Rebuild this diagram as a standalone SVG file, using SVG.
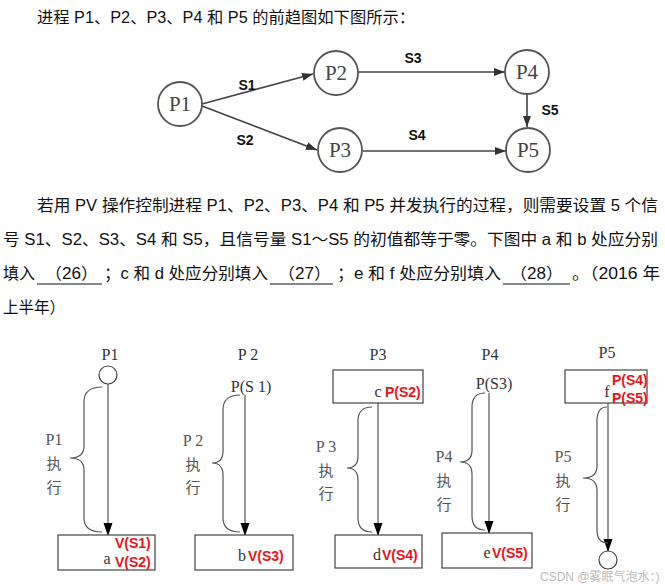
<svg xmlns="http://www.w3.org/2000/svg" width="665" height="588" viewBox="0 0 665 588">
<style>
.para{font-family:"Liberation Sans","Noto Sans CJK SC",sans-serif;font-size:16px;fill:#111}
.node circle{fill:#fff;stroke:#555;stroke-width:1.8}
.nlab{font-family:"Liberation Serif","Noto Sans CJK SC",serif;font-size:21px;fill:#444;text-anchor:middle}
.slab{font-family:"Liberation Sans",sans-serif;font-size:14px;font-weight:bold;fill:#111;text-anchor:middle}
.edge{stroke:#444;stroke-width:1.6;fill:none}
.ul{stroke:#111;stroke-width:1}
.ser{font-family:"Liberation Serif","Noto Sans CJK SC",serif;font-size:16px;fill:#333}
.mid{text-anchor:middle}
.lab{font-family:"Liberation Serif",serif;font-size:16px;fill:#555;text-anchor:middle}
.cjk{font-family:"Noto Sans CJK SC",sans-serif;font-size:15px;fill:#555;text-anchor:middle}
.red{font-family:"Liberation Sans",sans-serif;font-size:14px;font-weight:bold;fill:#e8141b}
.box{fill:#fff;stroke:#444;stroke-width:1.2}
.vl{stroke:#333;stroke-width:1;fill:none}
.brace{stroke:#555;stroke-width:1.2;fill:none}
.wm{font-family:"Liberation Sans","Noto Sans CJK SC",sans-serif;font-size:12px;fill:#bbb}
</style>
<defs>
<marker id="ah" markerUnits="userSpaceOnUse" markerWidth="12" markerHeight="10" refX="11" refY="4" orient="auto">
<path d="M0,0 L11,4 L0,8 Z" fill="#333"/>
</marker>
<marker id="ab" markerUnits="userSpaceOnUse" markerWidth="14" markerHeight="10" refX="12" refY="4.5" orient="auto">
<path d="M0,0 L13,4.5 L0,9 Z" fill="#000"/>
</marker>
</defs>

<text class="para" x="37" y="23" textLength="378" lengthAdjust="spacingAndGlyphs">进程 P1、P2、P3、P4 和 P5 的前趋图如下图所示：</text>

<g id="edges">
<line class="edge" x1="202" y1="104" x2="313" y2="74" marker-end="url(#ah)"/>
<line class="edge" x1="202" y1="106" x2="317" y2="150" marker-end="url(#ah)"/>
<line class="edge" x1="358" y1="72" x2="505" y2="72" marker-end="url(#ah)"/>
<line class="edge" x1="363" y1="151" x2="506" y2="151" marker-end="url(#ah)"/>
<line class="edge" x1="527" y1="94" x2="527" y2="127" marker-end="url(#ah)"/>
<text class="slab" x="247" y="90">S1</text>
<text class="slab" x="245" y="145">S2</text>
<text class="slab" x="413" y="63">S3</text>
<text class="slab" x="417" y="140">S4</text>
<text class="slab" x="550" y="115">S5</text>
</g>
<g id="P1" class="node"><circle cx="180" cy="104" r="22"/><text class="nlab" x="180" y="111">P1</text></g>
<g id="P2" class="node"><circle cx="336" cy="73" r="22"/><text class="nlab" x="336" y="80">P2</text></g>
<g id="P3" class="node"><circle cx="340" cy="150" r="22"/><text class="nlab" x="340" y="157">P3</text></g>
<g id="P4" class="node"><circle cx="527" cy="72" r="22"/><text class="nlab" x="527" y="79">P4</text></g>
<g id="P5" class="node"><circle cx="528" cy="150" r="22"/><text class="nlab" x="528" y="157">P5</text></g>

<g id="paragraph">
<text class="para" x="37" y="211" textLength="621" lengthAdjust="spacingAndGlyphs">若用 PV 操作控制进程 P1、P2、P3、P4 和 P5 并发执行的过程，则需要设置 5 个信</text>
<text class="para" x="3" y="245" textLength="655" lengthAdjust="spacingAndGlyphs">号 S1、S2、S3、S4 和 S5，且信号量 S1～S5 的初值都等于零。下图中 a 和 b 处应分别</text>
<text class="para" x="3" y="279" textLength="32" lengthAdjust="spacingAndGlyphs">填入</text>
<text class="para" x="45" y="279" textLength="53" lengthAdjust="spacingAndGlyphs">（26）</text>
<line class="ul" x1="37" y1="284" x2="102" y2="284"/>
<text class="para" x="104" y="279" textLength="164" lengthAdjust="spacingAndGlyphs">；c 和 d 处应分别填入</text>
<text class="para" x="278" y="279" textLength="53" lengthAdjust="spacingAndGlyphs">（27）</text>
<line class="ul" x1="270" y1="284" x2="333" y2="284"/>
<text class="para" x="337" y="279" textLength="164" lengthAdjust="spacingAndGlyphs">；e 和 f 处应分别填入</text>
<text class="para" x="510" y="279" textLength="53" lengthAdjust="spacingAndGlyphs">（28）</text>
<line class="ul" x1="503" y1="284" x2="570" y2="284"/>
<text class="para" x="572" y="279" textLength="88" lengthAdjust="spacingAndGlyphs">。（2016 年</text>
<text class="para" x="3" y="313" textLength="62" lengthAdjust="spacingAndGlyphs">上半年）</text>
</g>

<g id="proc-P1">
<text class="ser mid" x="110" y="360">P1</text>
<circle cx="108" cy="375" r="9" fill="#fff" stroke="#444" stroke-width="1.2"/>
<line class="vl" x1="108" y1="384" x2="108" y2="535" marker-end="url(#ab)"/>
<path class="brace" d="M102,387 Q84,387 84,402 L84,446 Q84,458 70,458 Q84,458 84,470 L84,518 Q84,532 102,532"/>
<text class="lab" x="54" y="445">P1</text>
<text class="cjk" x="54" y="469">执</text>
<text class="cjk" x="54" y="493">行</text>
<rect class="box" x="58" y="535" width="97" height="35"/>
<text class="ser mid" x="107" y="564">a</text>
<text class="red" x="115" y="548">V(S1)</text>
<text class="red" x="115" y="567">V(S2)</text>
</g>

<g id="proc-P2">
<text class="ser mid" x="248" y="360">P 2</text>
<text class="ser mid" x="251" y="392">P(S 1)</text>
<line class="vl" x1="245" y1="395" x2="245" y2="535" marker-end="url(#ab)"/>
<path class="brace" d="M240,395 Q223,395 223,410 L223,451 Q223,463 212,463 Q223,463 223,475 L223,518 Q223,532 240,532"/>
<text class="lab" x="193" y="446">P 2</text>
<text class="cjk" x="193" y="470">执</text>
<text class="cjk" x="193" y="493">行</text>
<rect class="box" x="195" y="535" width="98" height="35"/>
<text class="ser mid" x="242" y="561">b</text>
<text class="red" x="248" y="561">V(S3)</text>
</g>

<g id="proc-P3">
<text class="ser mid" x="378" y="360">P3</text>
<rect class="box" x="333" y="370" width="90" height="33"/>
<text class="ser mid" x="378" y="397">c</text>
<text class="red" x="385" y="397">P(S2)</text>
<line class="vl" x1="378" y1="403" x2="378" y2="535" marker-end="url(#ab)"/>
<path class="brace" d="M372,407 Q358,407 358,421 L358,456 Q358,468 347,468 Q358,468 358,480 L358,518 Q358,532 372,532"/>
<text class="lab" x="326" y="452">P 3</text>
<text class="cjk" x="326" y="476">执</text>
<text class="cjk" x="326" y="499">行</text>
<rect class="box" x="335" y="535" width="87" height="33"/>
<text class="ser mid" x="377" y="560">d</text>
<text class="red" x="382" y="560">V(S4)</text>
</g>

<g id="proc-P4">
<text class="ser mid" x="490" y="360">P4</text>
<text class="ser mid" x="494" y="389">P(S3)</text>
<line class="vl" x1="489" y1="393" x2="489" y2="533" marker-end="url(#ab)"/>
<path class="brace" d="M485,393 Q472,393 472,407 L472,450 Q472,462 460,462 Q472,462 472,474 L472,516 Q472,530 485,530"/>
<text class="lab" x="444" y="462">P4</text>
<text class="cjk" x="444" y="486">执</text>
<text class="cjk" x="444" y="510">行</text>
<rect class="box" x="442" y="533" width="90" height="35"/>
<text class="ser mid" x="487" y="558">e</text>
<text class="red" x="492" y="558">V(S5)</text>
</g>

<g id="proc-P5">
<text class="ser mid" x="607" y="358">P5</text>
<rect class="box" x="565" y="370" width="82" height="33"/>
<text class="ser mid" x="607" y="397">f</text>
<text class="red" x="612" y="385">P(S4)</text>
<text class="red" x="612" y="403">P(S5)</text>
<line class="vl" x1="608" y1="403" x2="608" y2="551" marker-end="url(#ab)"/>
<path class="brace" d="M607,407 Q597,407 597,421 L597,466 Q597,478 583,478 Q597,478 597,490 L597,530 Q597,543 608,543"/>
<text class="lab" x="563" y="462">P5</text>
<text class="cjk" x="563" y="486">执</text>
<text class="cjk" x="563" y="510">行</text>
<circle cx="608" cy="560" r="9" fill="#fff" stroke="#444" stroke-width="1.2"/>
</g>

<text class="wm" x="540" y="581">CSDN @雾眠气泡水：)</text>
</svg>
